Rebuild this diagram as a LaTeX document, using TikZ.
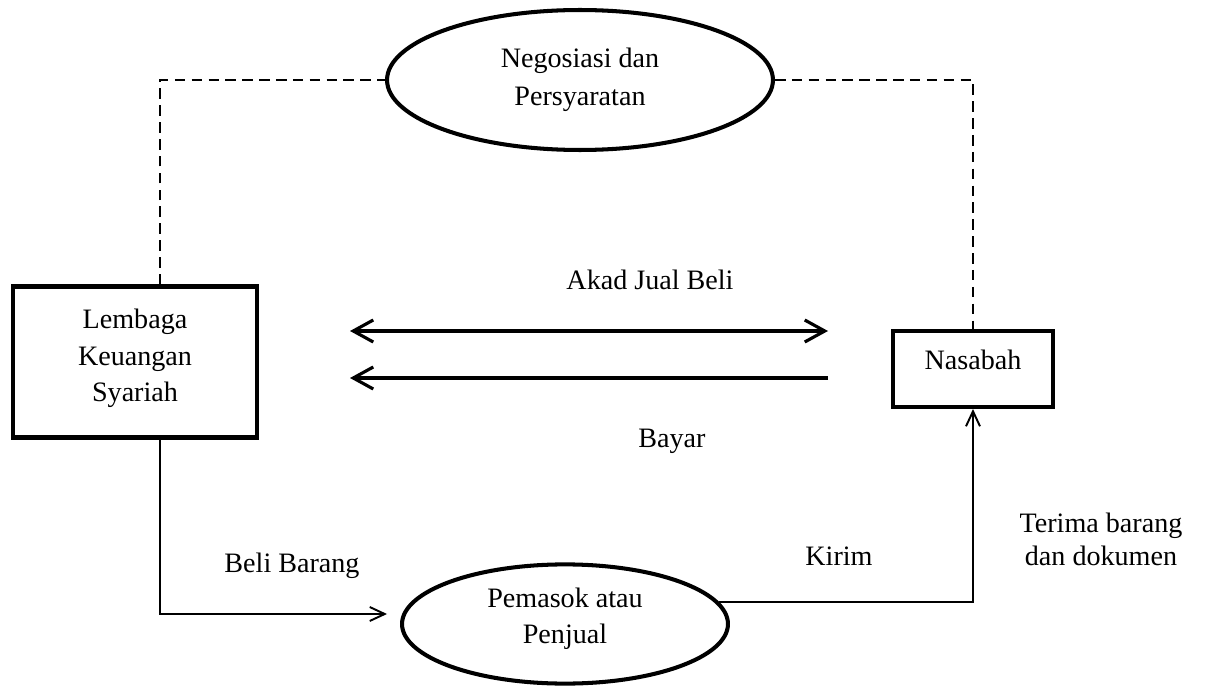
\documentclass[tikz,border=0pt]{standalone}
\usepackage{fontspec}
\setmainfont{Liberation Serif}
\usetikzlibrary{shapes.geometric, arrows.meta, positioning, calc}
\tikzset{
    party/.style={rectangle, draw=black, line width=2.3pt, align=center, font=\fontsize{16}{20.7}\selectfont},
    proses/.style={ellipse, draw=black, line width=2.3pt, align=center, font=\fontsize{16}{20.7}\selectfont},
    label/.style={align=center, font=\fontsize{16}{18.7}\selectfont},
    dashline/.style={dashed, dash pattern=on 6pt off 3.6pt, line width=0.7pt},
    flowline/.style={-{Straight Barb[length=3mm, width=2.8mm]}, line width=1.1pt},
    akadline/.style={line width=1.8pt}
}
\begin{document}
\begin{tikzpicture}[x=0.02cm, y=-0.02cm]
  \useasboundingbox (0,0) rectangle (1205,686);
  % pihak dan proses
  \node[proses, minimum width=7.72cm, minimum height=2.8cm, font=\fontsize{16}{21.6}\selectfont] (nego) at (580,80) {Negosiasi dan\\Persyaratan};
  \node[party, minimum width=4.88cm, minimum height=3.02cm, text depth=7.5pt] (lks) at (135,362) {Lembaga\\Keuangan\\Syariah};
  \node[party, minimum width=3.2cm, minimum height=1.52cm, text depth=10pt] (nasabah) at (973,369) {Nasabah};
  \node[proses, minimum width=6.52cm, minimum height=2.36cm, text depth=9.5pt] (pemasok) at (565,624) {Pemasok atau\\Penjual};
  % titik bantu
  \coordinate (tl) at (160,80);
  \coordinate (tr) at (973,80);
  \coordinate (bl) at (160,614);
  \coordinate (br) at (973,601);
  \coordinate (akadL) at (350,331);
  \coordinate (akadR) at (828,331);
  \coordinate (bayarL) at (350,378);
  \coordinate (bayarR) at (828,378);
  % negosiasi
  \draw[dashline] (lks.north -| tl) -- (tl) -- (nego.west);
  \draw[dashline] (nego.east) -- (tr) -- (nasabah.north -| tr);
  % akad dan bayar
  \draw[akadline, {Straight Barb[length=4mm, width=4.4mm]}-{Straight Barb[length=4mm, width=4.4mm]}] (akadL) -- (akadR);
  \draw[akadline, -{Straight Barb[length=4mm, width=4.4mm]}] (bayarR) -- (bayarL);
  \node[label] (akad) at (650,280) {Akad Jual Beli};
  \node[label] (bayar) at (672,441) {Bayar};
  % barang
  \draw[flowline, shorten >=0.26cm] (lks.south -| bl) -- (bl) -- (bl -| pemasok.west);
  \draw[flowline] (pemasok.8) -| (nasabah.south -| br);
  \node[label, anchor=base] (beli) at (292,572) {Beli Barang};
  \node[label, anchor=base] (kirim) at (839,565) {Kirim};
  \node[label] (terima) at (1101,539) {Terima barang\\dan dokumen};
\end{tikzpicture}
\end{document}
